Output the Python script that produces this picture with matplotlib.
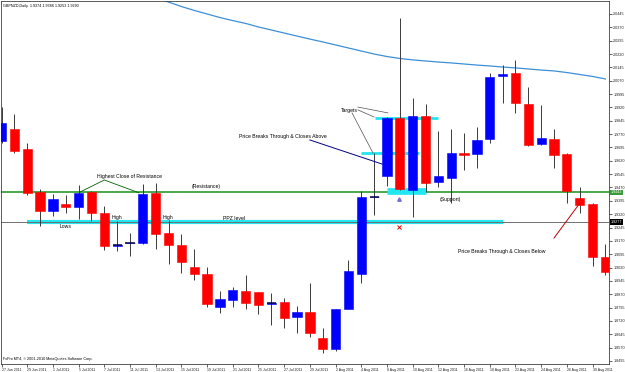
import matplotlib.pyplot as plt
import numpy as np

plt.rcParams['font.family'] = ['Liberation Sans', 'DejaVu Sans']

# GBPNZD daily candles, 27 Jun 2011 .. 31 Aug 2011
opens = [1.9731, 1.9799, 1.9686, 1.9445, 1.9338, 1.9377, 1.9360, 1.9445, 1.9327, 1.9141,
         1.9156, 1.9158, 1.9439, 1.9214, 1.9147, 1.9023, 1.8984, 1.8798, 1.8838, 1.8888,
         1.8883, 1.8816, 1.8826, 1.8742, 1.8770, 1.8624, 1.8562, 1.8787, 1.8984, 1.9417,
         1.9535, 1.9861, 1.9456, 1.9872, 1.9501, 1.9523, 1.9664, 1.9658, 1.9743, 2.0097,
         2.0113, 1.9939, 1.9714, 1.9743, 1.9658, 1.9411, 1.9377, 1.9079]
highs = [1.9922, 1.9883, 1.9720, 1.9462, 1.9433, 1.9428, 1.9484, 1.9450, 1.9366, 1.9282,
         1.9214, 1.9490, 1.9495, 1.9287, 1.9209, 1.9124, 1.9023, 1.8888, 1.8911, 1.8978,
         1.8885, 1.8877, 1.8849, 1.8804, 1.8933, 1.8680, 1.8787, 1.9063, 1.9450, 1.9664,
         1.9866, 2.0423, 1.9973, 1.9939, 1.9788, 1.9799, 1.9776, 1.9810, 2.0113, 2.0158,
         2.0187, 2.0035, 1.9934, 1.9799, 1.9664, 1.9473, 1.9383, 1.9152]
lows = [1.9720, 1.9664, 1.9428, 1.9254, 1.9310, 1.9327, 1.9293, 1.9282, 1.9119, 1.9113,
        1.9085, 1.9152, 1.9124, 1.9040, 1.8989, 1.8950, 1.8798, 1.8765, 1.8798, 1.8787,
        1.8759, 1.8697, 1.8680, 1.8652, 1.8630, 1.8540, 1.8551, 1.8785, 1.8933, 1.9315,
        1.9478, 1.9456, 1.9304, 1.9445, 1.9473, 1.9383, 1.9568, 1.9580, 1.9720, 1.9945,
        1.9889, 1.9703, 1.9709, 1.9580, 1.9383, 1.9327, 1.9029, 1.8978]
closes = [1.9832, 1.9675, 1.9439, 1.9338, 1.9405, 1.9360, 1.9439, 1.9327, 1.9141, 1.9144,
          1.9159, 1.9433, 1.9209, 1.9147, 1.9051, 1.8984, 1.8815, 1.8843, 1.8894, 1.8821,
          1.8810, 1.8820, 1.8737, 1.8770, 1.8652, 1.8562, 1.8787, 1.9001, 1.9417, 1.9419,
          1.9861, 1.9462, 1.9872, 1.9495, 1.9535, 1.9664, 1.9653, 1.9737, 2.0091, 2.0108,
          1.9945, 1.9709, 1.9748, 1.9653, 1.9450, 1.9372, 1.9079, 1.8995]

date_labels = ['27 Jun 2011', '29 Jun 2011', '1 Jul 2011', '5 Jul 2011', '7 Jul 2011',
               '11 Jul 2011', '13 Jul 2011', '15 Jul 2011', '19 Jul 2011', '21 Jul 2011',
               '25 Jul 2011', '27 Jul 2011', '29 Jul 2011', '2 Aug 2011', '4 Aug 2011',
               '8 Aug 2011', '10 Aug 2011', '12 Aug 2011', '16 Aug 2011', '18 Aug 2011',
               '22 Aug 2011', '24 Aug 2011', '26 Aug 2011', '30 Aug 2011']

# moving average, starts at bar 12 (above the window before that)
ma_start = 12
ma_vals = [2.0535, 2.0512, 2.0487, 2.0465, 2.0445, 2.0425, 2.0408, 2.0392, 2.0372, 2.0355,
           2.0338, 2.0321, 2.0304, 2.0288, 2.0271, 2.0254, 2.0237, 2.0220, 2.0206, 2.0195,
           2.0187, 2.0181, 2.0175, 2.0170, 2.0164, 2.0158, 2.0153, 2.0147, 2.0142, 2.0136,
           2.0130, 2.0125, 2.0116, 2.0105, 2.0094, 2.0080]

resistance = 1.9442
ppz = 1.9277
ppz_span = (2.0, 39.0)
target_levels = [1.9861, 1.9664, 1.9448]
target_spans = [(29.1, 34.0), (28.0, 32.5), (30.0, 33.0)]

fig = plt.figure(figsize=(6.25, 3.72), dpi=100)
ax = fig.add_axes([1 / 625, 8 / 372, 608 / 625, 363 / 372])

idx = np.arange(len(opens))
o = np.array(opens); h = np.array(highs); l = np.array(lows); c = np.array(closes)
bull = c >= o

# wicks
ax.vlines(idx, l, h, color='#3a3a3a', lw=0.7, zorder=3)
# bodies
body_col = np.where(bull, '#0000ff', '#ff0000')
ax.bar(idx, np.abs(c - o), bottom=np.minimum(o, c), width=0.72, color=body_col,
       edgecolor=body_col, lw=0.4, zorder=4)
# doji dashes
doji = np.abs(c - o) < 0.0004
ax.hlines(c[doji], idx[doji] - 0.36, idx[doji] + 0.36, color='#000050', lw=1.1, zorder=5)

# moving average
ax.plot(np.arange(ma_start, ma_start + len(ma_vals)), ma_vals, color='#3d8fd6', lw=0.9, zorder=2)

# levels
ax.axhline(resistance, color='#4aa84a', lw=1.4, zorder=1)
ax.axhline(ppz, color='#707070', lw=0.7, zorder=2)
ax.hlines(ppz, *ppz_span, color='#22e6f0', lw=3.0, zorder=1)
for lev, (x0, x1), lw in zip(target_levels, target_spans, [2.0, 2.0, 4.8]):
    ax.hlines(lev, x0, x1, color='#22e6f0', lw=lw, zorder=1)

# annotations
fs = 3.7
ax.text(7.45, 1.9529, 'Highest Close of Resistance', fontsize=fs, va='center', zorder=6)
ax.plot([6.1, 8.0, 10.7], [1.9444, 1.9512, 1.9440], color='#006400', lw=0.6, zorder=6)
ax.text(14.8, 1.9478, '(Resistance)', fontsize=fs, va='center', zorder=6)
ax.text(8.6, 1.9304, 'High', fontsize=fs, va='center', zorder=6)
ax.text(12.57, 1.9304, 'High', fontsize=fs, va='center', zorder=6)
ax.text(4.55, 1.9248, 'Lows', fontsize=fs, va='center', zorder=6)
ax.text(17.2, 1.9298, 'PPZ level', fontsize=fs, va='center', zorder=6)
ax.text(26.4, 1.9905, 'Targets', fontsize=fs, va='center', zorder=6)
ax.plot([27.74, 30.08], [1.9922, 1.9889], color='#505050', lw=0.5, zorder=6)
ax.plot([27.74, 29.0], [1.9906, 1.9866], color='#505050', lw=0.5, zorder=6)
ax.plot([27.28, 28.91], [1.9889, 1.9664], color='#505050', lw=0.5, zorder=6)
ax.text(18.5, 1.9759, 'Price Breaks Through & Closes Above', fontsize=fs, va='center', zorder=6)
ax.plot([24.0, 29.6], [1.9737, 1.9602], color='#000080', lw=0.7, zorder=6)
ax.text(34.1, 1.9405, '(Support)', fontsize=fs, va='center', zorder=6)
ax.text(35.5, 1.9113, 'Price Breaks Through & Closes Below', fontsize=fs, va='center', zorder=6)
ax.plot([43.0, 45.02], [1.9186, 1.9383], color='#c00000', lw=0.7, zorder=6)
ax.plot(30.93, 1.9408, marker='^', ms=2.5, color='#7070e0', zorder=6)
ax.plot(30.93, 1.9248, marker='x', ms=2.2, mew=0.7, color='#e00000', zorder=6)

ax.text(0.004, 0.992, 'GBPNZD,Daily  1.9374 1.9386 1.9253 1.9290', transform=ax.transAxes,
        fontsize=2.7, va='top', ha='left')
ax.text(0.004, 0.008, 'FxPro MT4, \u00a9 2001-2010 MetaQuotes Software Corp.',
        transform=ax.transAxes, fontsize=2.7, va='bottom', ha='left')

# axes
ax.set_xlim(-0.04, 47.28)
ax.set_ylim(1.8478, 2.0518)
yt = 1.8495 + 0.0075 * np.arange(27)
ax.yaxis.tick_right()
ax.set_yticks(yt)
ax.set_yticklabels(['%.4f' % v for v in yt], fontsize=2.7)
ax.set_xticks(np.arange(0, 48, 2))
ax.set_xticklabels(date_labels, fontsize=2.5, ha='left')
ax.tick_params(axis='both', length=2, width=0.5, pad=1, colors='#202020')
for s in ax.spines.values():
    s.set_linewidth(0.6)
    s.set_color('#404040')

# price labels on the right axis
ax.text(1.003, resistance, '%.4f' % resistance, transform=ax.get_yaxis_transform(),
        fontsize=2.7, color='white', va='center', ha='left',
        bbox=dict(boxstyle='square,pad=0.25', fc='#3a9a3a', ec='none'))
ax.text(1.003, ppz, '%.4f' % ppz, transform=ax.get_yaxis_transform(),
        fontsize=2.7, color='white', va='center', ha='left',
        bbox=dict(boxstyle='square,pad=0.25', fc='#000000', ec='none'))

fig.savefig('out.png', dpi=100)
